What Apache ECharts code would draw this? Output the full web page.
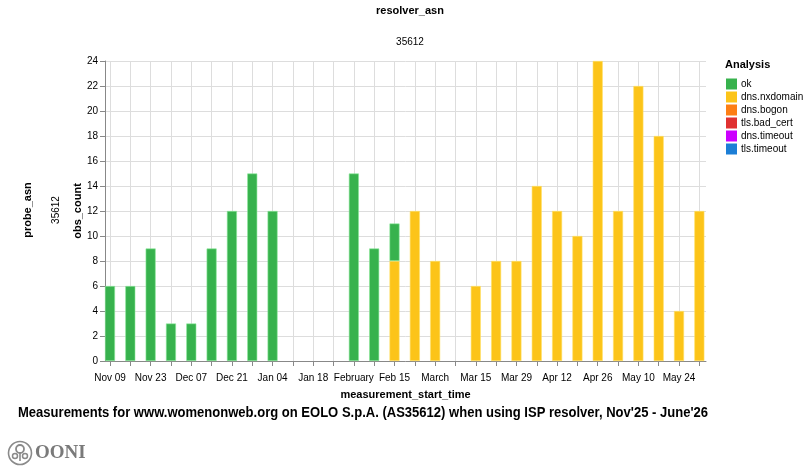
<!DOCTYPE html>
<html>
<head>
<meta charset="utf-8">
<title>resolver_asn 35612</title>
<script src="https://cdn.jsdelivr.net/npm/echarts@6/dist/echarts.min.js"></script>
<style>
  html, body { margin: 0; padding: 0; background: #fff; }
  #chart { width: 809px; height: 476px; }
</style>
</head>
<body>
<div id="chart"></div>
<script>
// weekly buckets (week start, Sunday)
var weeks = [
    '2025-11-09', '2025-11-16', '2025-11-23', '2025-11-30', '2025-12-07', '2025-12-14',
    '2025-12-21', '2025-12-28', '2026-01-04', '2026-01-11', '2026-01-18', '2026-01-25',
    '2026-02-01', '2026-02-08', '2026-02-15', '2026-02-22', '2026-03-01', '2026-03-08',
    '2026-03-15', '2026-03-22', '2026-03-29', '2026-04-05', '2026-04-12', '2026-04-19',
    '2026-04-26', '2026-05-03', '2026-05-10', '2026-05-17', '2026-05-24', '2026-05-31'
];
var okCounts = [6, 6, 9, 3, 3, 9, 12, 15, 12, 0, 0, 0, 15, 9, 3, 0, 0, 0, 0, 0, 0, 0, 0, 0, 0, 0, 0, 0, 0, 0];
var nxdomainCounts = [0, 0, 0, 0, 0, 0, 0, 0, 0, 0, 0, 0, 0, 0, 8, 12, 8, 0, 6, 8, 8, 14, 12, 10, 24, 12, 22, 18, 4, 12];
var bogonCounts = [];
var badCertCounts = [];
var dnsTimeoutCounts = [];
var tlsTimeoutCounts = [];

// labelled ticks on the time axis
var labelDates = [
    '2025-11-09', '2025-11-23', '2025-12-07', '2025-12-21', '2026-01-04', '2026-01-18',
    '2026-02-01', '2026-02-15', '2026-03-01', '2026-03-15', '2026-03-29', '2026-04-12',
    '2026-04-26', '2026-05-10', '2026-05-24'
];
var yTicks = [0, 24, 2];  // min, max, step
var xDomain = ['2025-11-07T06:40', '2026-06-02T07:00'];

var captionText = 'Measurements for www.womenonweb.org on EOLO S.p.A. (AS35612) when using ISP resolver, Nov\'25 - June\'26';

var monthShort = ['Jan', 'Feb', 'Mar', 'Apr', 'May', 'Jun', 'Jul', 'Aug', 'Sep', 'Oct', 'Nov', 'Dec'];
var monthLong = ['January', 'February', 'March', 'April', 'May', 'June', 'July',
    'August', 'September', 'October', 'November', 'December'];

function ts(s) {
    var p = s.split('T');
    var d = p[0].split('-');
    var h = p[1] ? p[1].split(':') : [0, 0];
    return Date.UTC(+d[0], +d[1] - 1, +d[2], +h[0], +h[1]);
}

function fmtDate(v) {
    var d = new Date(v);
    if (d.getUTCDate() == 1) {
        return monthLong[d.getUTCMonth()];
    }
    var day = d.getUTCDate();
    return monthShort[d.getUTCMonth()] + ' ' + (day < 10 ? '0' + day : day);
}

// one row per week: [count, week]; count comes first so the stack is built on it
function rows(counts) {
    var out = [];
    for (var i = 0; i < weeks.length; i++) {
        out.push([counts[i] > 0 ? counts[i] : '-', ts(weeks[i])]);
    }
    return out;
}

var labelFont = 'Liberation Sans, Arial, sans-serif';

// caption in the reference is a condensed bold face; squeeze it to its width
var captionSize = 14;
var ctx = document.createElement('canvas').getContext('2d');
ctx.font = 'bold ' + captionSize + 'px ' + labelFont;
var captionScale = 690 / ctx.measureText(captionText).width;

function barSeries(name, color, border, counts) {
    return {
        name: name,
        type: 'bar',
        stack: 'total',
        barWidth: 10,
        dimensions: ['count', 'week'],
        encode: { x: 'week', y: 'count' },
        itemStyle: { color: color, borderColor: border, borderWidth: 0.6 },
        emphasis: { disabled: true },
        data: rows(counts)
    };
}

var option = {
    backgroundColor: '#fff',
    animation: false,
    textStyle: { fontFamily: labelFont },
    title: [
        {
            text: 'resolver_asn',
            left: 405, top: 0, textAlign: 'center',
            textStyle: { fontSize: 11, fontWeight: 'bold', color: '#000' }
        },
        {
            text: '35612',
            left: 405, top: 32, textAlign: 'center',
            textStyle: { fontSize: 10, fontWeight: 'normal', color: '#000' }
        }
    ],
    legend: {
        orient: 'vertical',
        left: 726, top: 78.5,
        padding: 0,
        itemWidth: 11, itemHeight: 11, itemGap: 2,
        icon: 'rect',
        selectedMode: false,
        itemStyle: { borderWidth: 0 },
        textStyle: { fontSize: 10, color: '#000', lineHeight: 11, padding: [0, 0, 0, -1] },
        data: ['ok', 'dns.nxdomain', 'dns.bogon', 'tls.bad_cert', 'dns.timeout', 'tls.timeout']
    },
    graphic: [
        {
            type: 'text', left: 725, top: 59,
            style: { text: 'Analysis', fontSize: 11, fontWeight: 'bold', fill: '#000', fontFamily: labelFont }
        },
        {
            type: 'text', x: 363, y: 413, scaleX: captionScale,
            style: { text: captionText, fontSize: captionSize, fontWeight: 'bold', fill: '#000',
                fontFamily: labelFont, align: 'center', verticalAlign: 'middle' }
        },
        {
            type: 'text', x: 28, y: 210, rotation: Math.PI / 2,
            style: { text: 'probe_asn', fontSize: 11, fontWeight: 'bold', fill: '#000',
                fontFamily: labelFont, align: 'center', verticalAlign: 'middle' }
        },
        {
            type: 'text', x: 56, y: 210, rotation: Math.PI / 2,
            style: { text: '35612', fontSize: 10, fill: '#000',
                fontFamily: labelFont, align: 'center', verticalAlign: 'middle' }
        },
        {
            type: 'group', left: 6, top: 439,
            children: [
                { type: 'circle', shape: { cx: 12, cy: 12, r: 11.5 }, style: { fill: 'none', stroke: '#8a8a8a', lineWidth: 1.6 } },
                { type: 'circle', shape: { cx: 12, cy: 8, r: 4 }, style: { fill: 'none', stroke: '#8a8a8a', lineWidth: 1.8 } },
                { type: 'circle', shape: { cx: 7, cy: 15, r: 2.5 }, style: { fill: 'none', stroke: '#8a8a8a', lineWidth: 1.5 } },
                { type: 'circle', shape: { cx: 17, cy: 15, r: 2.5 }, style: { fill: 'none', stroke: '#8a8a8a', lineWidth: 1.5 } },
                { type: 'line', shape: { x1: 12, y1: 12, x2: 12, y2: 20 }, style: { stroke: '#8a8a8a', lineWidth: 1.6 } },
                {
                    type: 'text', x: 27, y: 3,
                    style: { text: 'OONI', fontSize: 19, fontWeight: 'bold', fill: '#7a7a7a',
                        fontFamily: 'Liberation Serif, DejaVu Serif, serif' }
                }
            ]
        }
    ],
    grid: { left: 105, right: 103, top: 61, bottom: 115 },
    xAxis: {
        type: 'value',
        min: ts(xDomain[0]),
        max: ts(xDomain[1]),
        name: 'measurement_start_time',
        nameLocation: 'middle',
        nameGap: 28,
        nameTextStyle: { fontSize: 11, fontWeight: 'bold', color: '#000' },
        axisLine: { show: true, lineStyle: { color: '#888', width: 1 } },
        axisTick: {
            show: true, length: 5, lineStyle: { color: '#888' },
            customValues: weeks.map(function (w) { return ts(w); })
        },
        axisLabel: {
            fontSize: 10, color: '#000', margin: 12,
            customValues: labelDates.map(function (w) { return ts(w); }),
            formatter: fmtDate
        },
        splitLine: { show: true, lineStyle: { color: '#ddd', width: 1 } }
    },
    yAxis: {
        type: 'value',
        min: yTicks[0],
        max: yTicks[1],
        interval: yTicks[2],
        name: 'obs_count',
        nameLocation: 'middle',
        nameGap: 22,
        nameMoveOverlap: false,
        nameTextStyle: { fontSize: 11, fontWeight: 'bold', color: '#000' },
        axisLine: { show: true, lineStyle: { color: '#888', width: 1 } },
        axisTick: { show: true, length: 5, lineStyle: { color: '#888' } },
        axisLabel: { fontSize: 10, color: '#000', margin: 7 },
        splitLine: { show: true, lineStyle: { color: '#ddd', width: 1 } }
    },
    // nxdomain first so it sits at the bottom of the stack, as in the reference
    series: [
        barSeries('dns.nxdomain', '#fcc419', '#ffe066', nxdomainCounts),
        barSeries('ok', '#37b24d', '#8ce99a', okCounts),
        barSeries('dns.bogon', '#fd7e14', '#ffa94d', bogonCounts),
        barSeries('tls.bad_cert', '#e03131', '#ff8787', badCertCounts),
        barSeries('dns.timeout', '#cc00ff', '#e599f7', dnsTimeoutCounts),
        barSeries('tls.timeout', '#1c7ed6', '#74c0fc', tlsTimeoutCounts)
    ]
};

var chart = echarts.init(document.getElementById('chart'));
chart.setOption(option);
</script>
</body>
</html>
